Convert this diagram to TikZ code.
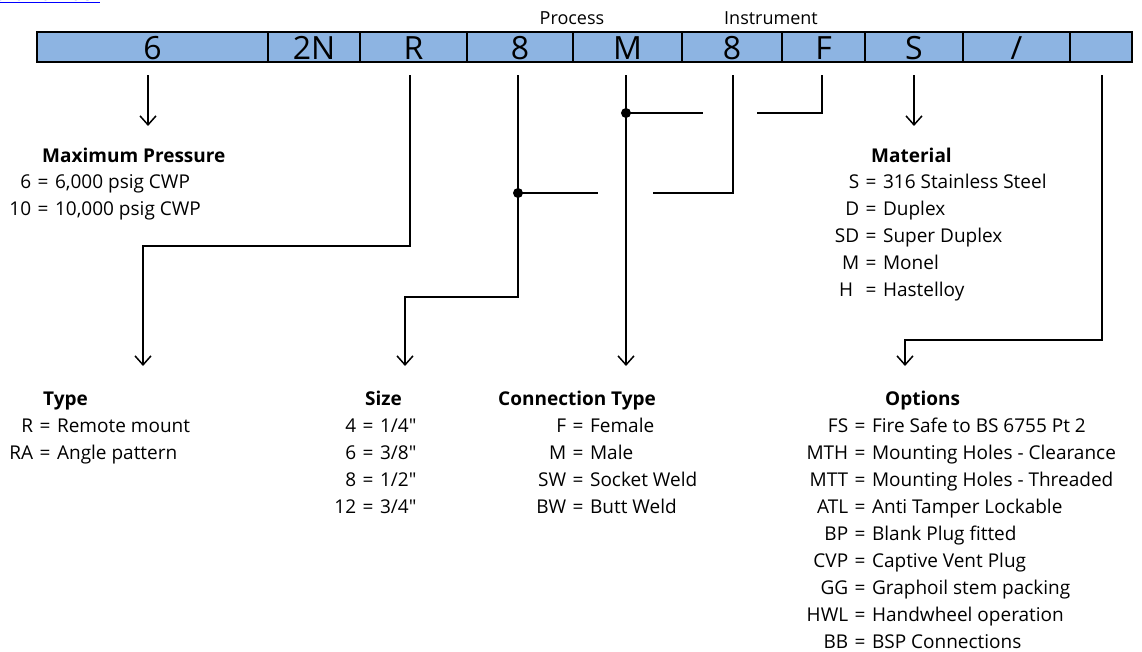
\documentclass[tikz,border=0pt]{standalone}
\usepackage{fontspec}
\setmainfont{Open Sans}
\usepackage{array}
\usetikzlibrary{arrows.meta,calc}
\definecolor{barblue}{RGB}{141,180,226}
\definecolor{linkblue}{RGB}{0,0,255}
\newcolumntype{K}[1]{@{}>{\raggedleft\arraybackslash}p{#1}@{\hspace{6.5pt}=\hspace{6.5pt}}l@{}}
\newcommand{\inch}{\textquotedbl}
\begin{document}
\begin{tikzpicture}[x=1pt,y=-1pt,
  cell/.style={draw, line width=2.6pt, fill=barblue, minimum height=30pt, inner sep=0pt,
    font=\fontsize{32}{32}\selectfont, text height=26pt, text depth=0pt},
  conn/.style={line width=1.5pt},
  arr/.style={conn, -{Straight Barb[length=9pt,width=16pt,line width=1.5pt]}},
  dot/.style={circle, fill, inner sep=0pt, minimum size=10pt},
  ttl/.style={font=\fontsize{19}{27}\selectfont\bfseries, anchor=base west, inner sep=0pt},
  lst/.style={font=\fontsize{19}{27}\selectfont, anchor=base west, inner sep=0pt},
  lbl/.style={font=\fontsize{18}{20}\selectfont, anchor=base, inner sep=0pt},
  lnk/.style={font=\fontsize{19}{20}\selectfont, text=linkblue, anchor=base east, inner sep=0pt}]

\useasboundingbox (0,0) rectangle (1142,652);

% link text at top (clipped as in the reference)
\node[lnk] (link) at (100,1) {\underline{Part Number}};

% code bar
\node[cell, minimum width=231pt] (c1) at (152.5,47) {6};
\node[cell, minimum width=92pt]  (c2) at (314,47) {2N};
\node[cell, minimum width=107pt] (c3) at (413.5,47) {R};
\node[cell, minimum width=106pt] (c4) at (520,47) {8};
\node[cell, minimum width=109pt] (c5) at (627.5,47) {M};
\node[cell, minimum width=100pt] (c6) at (732,47) {8};
\node[cell, minimum width=83pt]  (c7) at (823.5,47) {F};
\node[cell, minimum width=98pt]  (c8) at (914,47) {S};
\node[cell, minimum width=107pt] (c9) at (1016.5,47) {/};
\node[cell, minimum width=62pt]  (c10) at (1101,47) {};

\node[lbl] (proc) at (572,25) {Process};
\node[lbl] (inst) at (771,25) {Instrument};

% coordinates
\coordinate (tMP) at (148,126);
\coordinate (kTy) at (410,246);
\coordinate (tTy) at (143,366);
\coordinate (kSz) at (518,297);
\coordinate (tSz) at (405,366);
\coordinate (eA) at (598,193);
\coordinate (tCn) at (626,366);
\coordinate (eB) at (703,113);
\coordinate (kE) at (733,193);
\coordinate (eE) at (653,193);
\coordinate (kF) at (822,113);
\coordinate (eF) at (757,113);
\coordinate (tMa) at (914,126);
\coordinate (kO) at (1102,340);
\coordinate (tOp) at (905,366);

% connectors
\draw[arr] ($(c1.south -| tMP)+(0,12)$) -- (tMP);
\draw[arr] ($(c3.south -| kTy)+(0,12)$) -- (kTy) -| (tTy);
\draw[arr] ($(c4.south -| kSz)+(0,12)$) -- (kSz) -| (tSz);
\node[dot] (dA) at (518,193) {};
\draw[conn] (dA.center) -- (eA);
\draw[arr] ($(c5.south -| tCn)+(0,12)$) -- (tCn);
\node[dot] (dB) at (626,113) {};
\draw[conn] (dB.center) -- (eB);
\draw[conn] ($(c6.south -| kE)+(0,12)$) -- (kE) -- (eE);
\draw[conn] ($(c7.south -| kF)+(0,12)$) -- (kF) -- (eF);
\draw[arr] ($(c8.south -| tMa)+(0,12)$) -- (tMa);
\draw[arr] ($(c10.south -| kO)+(0,12)$) -- (kO) -| (tOp);

% Maximum Pressure
\node[ttl] (hMP) at (42,163) {Maximum Pressure};
\node[lst] (lMP) at (8,189) {\begin{tabular}[t]{K{23pt}}6 & 6,000 psig CWP\\10 & 10,000 psig CWP\end{tabular}};

% Material
\node[ttl] (hMa) at (871,163) {Material};
\node[lst] (lMa) at (832,189) {\begin{tabular}[t]{K{27pt}}S & 316 Stainless Steel\\D & Duplex\\SD & Super Duplex\\M & Monel\\H\hspace*{6pt} & Hastelloy\end{tabular}};

% Type
\node[ttl] (hTy) at (43,405) {Type};
\node[lst] (lTy) at (3,432) {\begin{tabular}[t]{K{30pt}}R & Remote mount\\RA & Angle pattern\end{tabular}};

% Size
\node[ttl] (hSz) at (365,405) {Size};
\node[lst] (lSz) at (331,432) {\begin{tabular}[t]{K{25pt}}4 & 1/4\inch\\6 & 3/8\inch\\8 & 1/2\inch\\12 & 3/4\inch\end{tabular}};

% Connection Type
\node[ttl] (hCn) at (498,405) {Connection Type};
\node[lst] (lCn) at (532,432) {\begin{tabular}[t]{K{34pt}}F & Female\\M & Male\\SW & Socket Weld\\BW & Butt Weld\end{tabular}};

% Options
\node[ttl] (hOp) at (885,405) {Options};
\node[lst] (lOp) at (801,432) {\begin{tabular}[t]{K{47pt}}FS & Fire Safe to BS 6755 Pt 2\\MTH & Mounting Holes - Clearance\\MTT & Mounting Holes - Threaded\\ATL & Anti Tamper Lockable\\BP & Blank Plug fitted\\CVP & Captive Vent Plug\\GG & Graphoil stem packing\\HWL & Handwheel operation\\BB & BSP Connections\end{tabular}};

\end{tikzpicture}
\end{document}
